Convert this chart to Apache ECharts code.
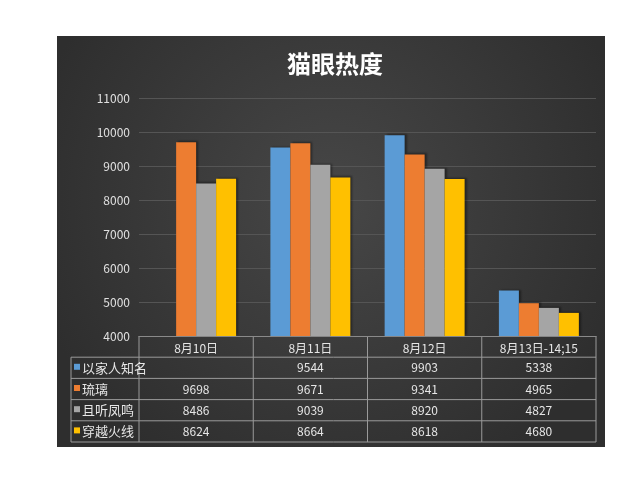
<!DOCTYPE html>
<html><head><meta charset="utf-8">
<script src="https://cdn.jsdelivr.net/npm/echarts@6/dist/echarts.min.js"></script>
<style>html,body{margin:0;padding:0;background:#fff}#c{width:640px;height:480px}</style>
</head><body><div id="c"></div>
<script>
const title = '猫眼热度';
const categories = ['8月10日', '8月11日', '8月12日', '8月13日-14;15'];
const seriesNames = ['以家人知名', '琉璃', '且听凤鸣', '穿越火线'];
const s1 = [null, 9544, 9903, 5338];
const s2 = [9698, 9671, 9341, 4965];
const s3 = [8486, 9039, 8920, 4827];
const s4 = [8624, 8664, 8618, 4680];
const seriesData = [s1, s2, s3, s4];
const colors = ['#5B9BD5', '#ED7D31', '#A5A5A5', '#FFC000'];
const yMin = 4000, yMax = 11000, yStep = 1000;

const chart = echarts.init(document.getElementById('c'));
const gridL = 139, gridR = 596, gridT = 98, gridB = 336;
const panel = {x: 57, y: 36, w: 548, h: 411};
const rowH = 21.2, legL = 71;

const option = {
  backgroundColor: '#ffffff',
  animation: false,
  title: {text: title, left: 330, top: 47, textAlign: 'center',
    textStyle: {color: '#ffffff', fontSize: 24, fontWeight: 'bold', fontFamily: 'Noto Sans CJK SC'}},
  grid: {left: gridL, right: 640 - gridR, top: gridT, bottom: 480 - gridB},
  xAxis: {type: 'category', data: categories,
    axisLine: {show: true, lineStyle: {color: '#8a8a8a'}}, axisTick: {show: false},
    axisLabel: {color: '#e6e6e6', fontSize: 12, margin: 6, fontFamily: 'Noto Sans CJK SC'}},
  yAxis: {type: 'value', min: yMin, max: yMax, interval: yStep,
    axisLine: {show: false}, axisTick: {show: false},
    axisLabel: {color: '#e0e0e0', fontSize: 12, margin: 9, fontFamily: 'Noto Sans CJK SC',
      formatter: v => String(v)},
    splitLine: {lineStyle: {color: '#555555', width: 1}}},
  series: seriesNames.map((n, i) => ({
    name: n, type: 'bar', data: seriesData[i], barGap: '0%', barCategoryGap: '30%',
    itemStyle: {color: colors[i], shadowColor: 'rgba(0,0,0,0.4)', shadowBlur: 2, shadowOffsetX: 2, shadowOffsetY: -1}
  }))
};
chart.setOption(option);

const g = [];
g.push({type: 'rect', z: -10, shape: {x: panel.x, y: panel.y, width: panel.w, height: panel.h},
  style: {fill: new echarts.graphic.RadialGradient(0.5, 0.4, 0.75, [
    {offset: 0, color: '#474747'}, {offset: 1, color: '#2e2e2e'}])}});
const lineCol = '#9a9a9a';
const tableBottom = gridB + rowH * 5;
const colEdges = [gridL];
for (let i = 0; i < categories.length; i++) {
  const c = chart.convertToPixel({xAxisIndex: 0}, categories[i]);
  const half = (gridR - gridL) / categories.length / 2;
  colEdges.push(c + half);
}
colEdges.forEach(x => g.push({type: 'line', shape: {x1: x, y1: gridB, x2: x, y2: tableBottom},
  style: {stroke: lineCol, lineWidth: 1}}));
g.push({type: 'line', shape: {x1: legL, y1: gridB + rowH, x2: legL, y2: tableBottom}, style: {stroke: lineCol, lineWidth: 1}});
for (let r = 1; r <= 5; r++) {
  const y = gridB + rowH * r;
  g.push({type: 'line', shape: {x1: legL, y1: y, x2: gridR, y2: y}, style: {stroke: lineCol, lineWidth: 1}});
}
seriesNames.forEach((n, i) => {
  const cy = gridB + rowH * (i + 1) + rowH / 2;
  g.push({type: 'rect', shape: {x: legL + 3, y: cy - 4, width: 6, height: 6}, style: {fill: colors[i]}});
  g.push({type: 'text', style: {text: n, x: legL + 11, y: cy, textVerticalAlign: 'middle',
    fill: '#e6e6e6', font: '13px "Noto Sans CJK SC"'}});
  seriesData[i].forEach((v, j) => {
    if (v == null) return;
    const cx = chart.convertToPixel({xAxisIndex: 0}, categories[j]);
    g.push({type: 'text', style: {text: String(v), x: cx, y: cy, textAlign: 'center', textVerticalAlign: 'middle',
      fill: '#e6e6e6', font: '12px "Noto Sans CJK SC"'}});
  });
});
chart.setOption({graphic: g});
</script></body></html>
